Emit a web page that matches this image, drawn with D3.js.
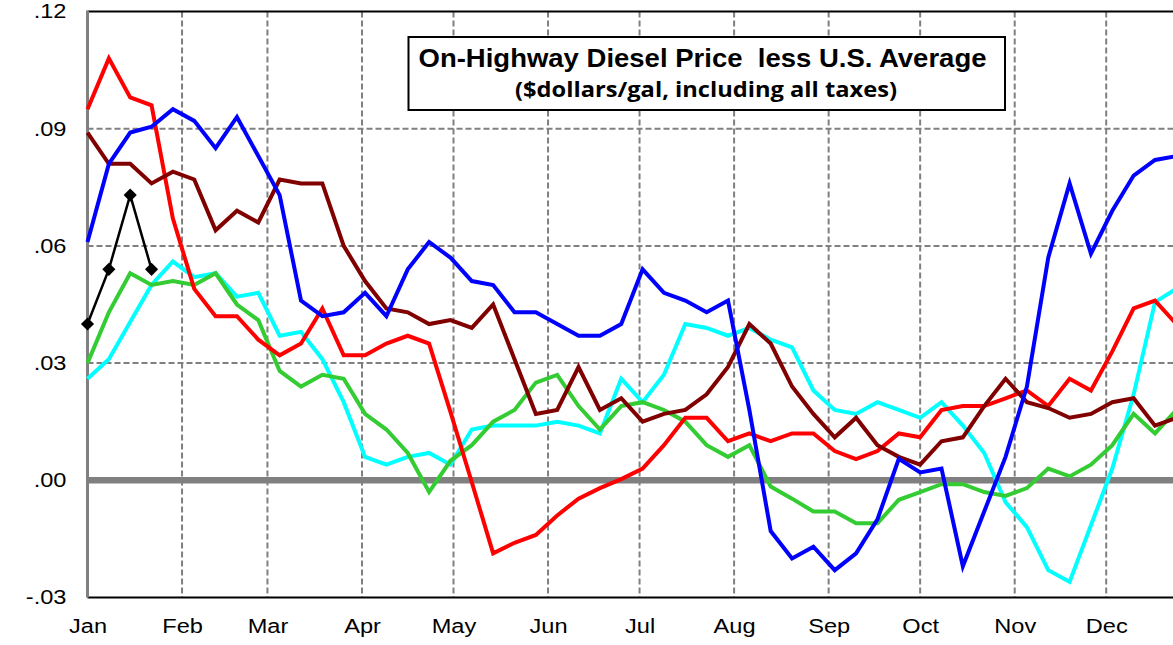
<!DOCTYPE html>
<html>
<head>
<meta charset="utf-8">
<script src="https://cdn.jsdelivr.net/npm/d3@7"></script>
<style>
  html, body { margin: 0; padding: 0; background: #fff; overflow: hidden; }
  svg { display: block; }
</style>
</head>
<body>
<svg id="chart" width="1173" height="645"></svg>
<script>
// ---- data ----
const monthLabels = ["Jan","Feb","Mar","Apr","May","Jun","Jul","Aug","Sep","Oct","Nov","Dec"];
const yTickValues = [-0.03, 0.00, 0.03, 0.06, 0.09, 0.12];
const yTickLabels = ["-.03", ".00", ".03", ".06", ".09", ".12"];
const weekCount = 52;

const redSeries = [0.095,0.108,0.098,0.096,0.067,0.049,0.042,0.042,0.036,0.032,0.035,0.044,0.032,0.032,0.035,0.037,0.035,0.0175,-0.0005,-0.0187,-0.016,-0.014,-0.009,-0.0047,-0.002,0.0003,0.003,0.009,0.016,0.016,0.010,0.012,0.010,0.012,0.012,0.0075,0.0054,0.0075,0.012,0.011,0.018,0.019,0.019,0.021,0.023,0.019,0.026,0.023,0.033,0.044,0.046,0.040];
const blueSeries = [0.061,0.081,0.089,0.0905,0.095,0.092,0.085,0.093,0.083,0.073,0.046,0.042,0.043,0.048,0.042,0.054,0.061,0.057,0.051,0.050,0.043,0.043,0.040,0.037,0.037,0.040,0.054,0.048,0.046,0.043,0.046,0.018,-0.013,-0.020,-0.017,-0.023,-0.0187,-0.010,0.0055,0.002,0.003,-0.022,-0.008,0.006,0.024,0.057,0.076,0.058,0.069,0.078,0.082,0.083];
const maroonSeries = [0.089,0.081,0.081,0.076,0.079,0.077,0.064,0.069,0.066,0.077,0.076,0.076,0.060,0.051,0.044,0.043,0.040,0.041,0.039,0.045,0.031,0.017,0.018,0.029,0.018,0.021,0.015,0.017,0.018,0.022,0.029,0.040,0.035,0.024,0.017,0.011,0.016,0.009,0.006,0.004,0.010,0.011,0.019,0.026,0.020,0.0185,0.016,0.017,0.020,0.021,0.014,0.016];
const cyanSeries = [0.026,0.031,0.0405,0.050,0.056,0.052,0.053,0.047,0.048,0.037,0.038,0.031,0.020,0.006,0.004,0.006,0.007,0.004,0.013,0.014,0.014,0.014,0.015,0.014,0.012,0.026,0.020,0.027,0.040,0.039,0.037,0.039,0.036,0.034,0.023,0.018,0.017,0.020,0.018,0.016,0.020,0.014,0.007,-0.0056,-0.012,-0.023,-0.026,-0.0115,0.003,0.022,0.0456,0.049];
const greenSeries = [0.030,0.043,0.053,0.050,0.051,0.050,0.053,0.045,0.041,0.028,0.024,0.027,0.026,0.017,0.013,0.007,-0.003,0.005,0.009,0.015,0.018,0.025,0.027,0.019,0.013,0.019,0.020,0.018,0.015,0.009,0.006,0.009,-0.0016,-0.0047,-0.008,-0.008,-0.011,-0.011,-0.005,-0.003,-0.001,-0.001,-0.003,-0.004,-0.002,0.003,0.001,0.004,0.009,0.017,0.012,0.018];
const blackSeries = [0.040,0.054,0.073,0.054];

const titleLine1 = "On-Highway Diesel Price  less U.S. Average";
const titleLine2 = "($dollars/gal, including all taxes)";

(function () {
// ---- scales ----
const yearStart = new Date(Date.UTC(2015, 0, 1));
const yearEnd = new Date(Date.UTC(2016, 0, 1));
const weekDates = d3.range(weekCount).map(i => d3.utcDay.offset(yearStart, 7 * i));
const monthStarts = d3.utcMonth.range(yearStart, yearEnd);

const plotLeft = 87.5, plotTop = 11.5, plotBottom = 597.5;
const pxPerDay = 3.05;
const W = 1173;
const stretch = 1.18;
const x = d3.scaleUtc().domain([yearStart, yearEnd]).range([plotLeft, plotLeft + 365 * pxPerDay]);
const y = d3.scaleLinear().domain([-0.03, 0.12]).range([plotBottom, plotTop]);

const svg = d3.select("#chart");

// gridlines
const grid = svg.append("g");
grid.selectAll("line.hg").data([0.03, 0.06, 0.09]).enter().append("line")
  .attr("class", "hg")
  .attr("x1", plotLeft).attr("x2", W + 40)
  .attr("y1", d => y(d)).attr("y2", d => y(d))
  .attr("stroke", "#808080").attr("stroke-width", 2).attr("stroke-dasharray", "6,3");
grid.selectAll("line.vg").data(monthStarts.slice(1)).enter().append("line")
  .attr("class", "vg")
  .attr("x1", d => x(d)).attr("x2", d => x(d))
  .attr("y1", plotTop).attr("y2", plotBottom)
  .attr("stroke", "#808080").attr("stroke-width", 2).attr("stroke-dasharray", "6,3");

// zero line
svg.append("line").attr("x1", plotLeft).attr("x2", W + 40)
  .attr("y1", y(0)).attr("y2", y(0))
  .attr("stroke", "#808080").attr("stroke-width", 6.5);

// top border & bottom axis
svg.append("line").attr("x1", plotLeft).attr("x2", W + 40).attr("y1", plotTop).attr("y2", plotTop)
  .attr("stroke", "#000").attr("stroke-width", 2);
svg.append("line").attr("x1", plotLeft).attr("x2", W + 40).attr("y1", plotBottom).attr("y2", plotBottom)
  .attr("stroke", "#000").attr("stroke-width", 2);
// left axis line
svg.append("line").attr("x1", plotLeft).attr("x2", plotLeft).attr("y1", plotTop - 1).attr("y2", plotBottom)
  .attr("stroke", "#808080").attr("stroke-width", 3);

function widen(sel) {
  sel.each(function () {
    const w = this.getComputedTextLength();
    d3.select(this).attr("textLength", w * stretch).attr("lengthAdjust", "spacingAndGlyphs");
  });
}

// y axis labels
const yAxis = d3.axisLeft(y).tickValues(yTickValues)
  .tickFormat((d, i) => yTickLabels[i]).tickSize(0).tickPadding(21);
const gy = svg.append("g").attr("transform", `translate(${plotLeft},0)`).call(yAxis);
gy.select(".domain").remove();
gy.selectAll("text").attr("font-family", "Liberation Sans, Arial, sans-serif")
  .attr("font-size", 20).attr("fill", "#000").call(widen);

// x axis labels
const xAxis = d3.axisBottom(x).tickValues(monthStarts)
  .tickFormat((d, i) => monthLabels[i]).tickSize(0).tickPadding(21);
const gx = svg.append("g").attr("transform", `translate(0,${plotBottom})`).call(xAxis);
gx.select(".domain").remove();
gx.selectAll("text").attr("font-family", "Liberation Sans, Arial, sans-serif")
  .attr("font-size", 20).attr("fill", "#000").call(widen);

// title box
const box = svg.append("g");
box.append("rect").attr("x", 408.5).attr("y", 37).attr("width", 596.5).attr("height", 73)
  .attr("fill", "#fff").attr("stroke", "#000").attr("stroke-width", 2);
box.append("text").attr("x", 702.5).attr("y", 66.5).attr("text-anchor", "middle")
  .style("white-space", "pre")
  .attr("font-family", "Liberation Sans, Arial, sans-serif").attr("font-weight", "bold")
  .attr("font-size", 25).attr("textLength", 568).attr("lengthAdjust", "spacingAndGlyphs")
  .text(titleLine1);
box.append("text").attr("x", 706).attr("y", 96.5).attr("text-anchor", "middle")
  .attr("font-family", "Open Sans, sans-serif").attr("font-weight", "bold")
  .attr("font-size", 20.5).attr("textLength", 382).attr("lengthAdjust", "spacingAndGlyphs")
  .text(titleLine2);

// lines
const line = d3.line().x((d, i) => x(weekDates[i])).y(d => y(d));
const series = [
  { data: cyanSeries, color: "#00FFFF" },
  { data: greenSeries, color: "#33CC33" },
  { data: redSeries, color: "#FF0000" },
  { data: maroonSeries, color: "#800000" },
  { data: blueSeries, color: "#0000FF" }
];
svg.append("g").selectAll("path").data(series).enter().append("path")
  .attr("d", d => line(d.data)).attr("fill", "none")
  .attr("stroke", d => d.color).attr("stroke-width", 4).attr("stroke-linejoin", "miter");

// black series with diamonds
svg.append("path").attr("d", line(blackSeries)).attr("fill", "none")
  .attr("stroke", "#000").attr("stroke-width", 2.5);
svg.append("g").selectAll("path").data(blackSeries).enter().append("path")
  .attr("d", d3.symbol().type(d3.symbolDiamond2).size(110))
  .attr("transform", (d, i) => `translate(${x(weekDates[i])},${y(d)})`)
  .attr("fill", "#000");
})();
</script>
</body>
</html>
